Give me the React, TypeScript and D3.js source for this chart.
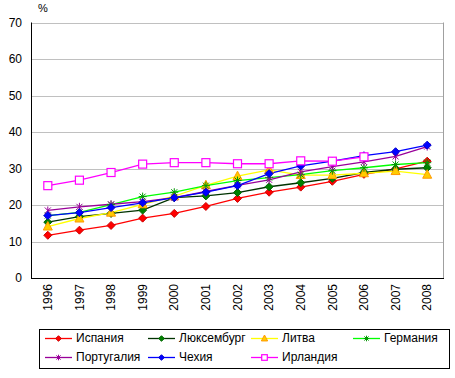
import React from "react";
import * as d3 from "d3";

const years = ["1996","1997","1998","1999","2000","2001","2002","2003","2004","2005","2006","2007","2008"];
const yTicks = [0, 10, 20, 30, 40, 50, 60, 70];

const spain = [11.7, 13.1, 14.4, 16.4, 17.7, 19.6, 21.8, 23.5, 24.9, 26.5, 28.4, 29.9, 32.0];
const luxembourg = [15.3, 16.8, 17.7, 18.6, 22.0, 22.5, 23.4, 25.0, 26.1, 27.3, 28.9, 29.8, 30.2];
const lithuania = [14.1, 16.3, 17.9, 20.2, 22.4, 25.4, 27.9, 29.6, 28.2, 28.2, 28.7, 29.3, 28.3];
const germany = [17.1, 18.0, 20.1, 22.3, 23.5, 25.3, 26.7, 27.5, 28.3, 29.4, 30.2, 31.1, 31.6];
const portugal = [18.5, 19.5, 20.2, 20.9, 22.0, 23.7, 25.4, 26.9, 29.1, 30.5, 31.8, 33.3, 36.0];
const czech = [17.1, 17.9, 19.3, 20.6, 22.0, 23.5, 25.3, 28.6, 30.7, 32.0, 33.5, 34.6, 36.4];
const ireland = [25.3, 26.8, 28.9, 31.2, 31.6, 31.6, 31.3, 31.3, 32.1, 32.0, 33.2, null, null];

type Series = { name: string; values: (number | null)[]; line: string; fill: string; stroke: string; marker: string };

const series: Series[] = [
  { name: "Испания", values: spain, line: "#FF0000", fill: "#FF0000", stroke: "#CC0000", marker: "diamond" },
  { name: "Люксембург", values: luxembourg, line: "#003300", fill: "#008000", stroke: "#006600", marker: "diamond" },
  { name: "Литва", values: lithuania, line: "#FFFF00", fill: "#FFCC00", stroke: "#FF9900", marker: "triangle" },
  { name: "Германия", values: germany, line: "#00FF00", fill: "#00CC00", stroke: "#009900", marker: "asterisk" },
  { name: "Португалия", values: portugal, line: "#990099", fill: "#990099", stroke: "#990099", marker: "star" },
  { name: "Чехия", values: czech, line: "#0000FF", fill: "#0000FF", stroke: "#0000CC", marker: "diamond" },
  { name: "Ирландия", values: ireland, line: "#FF00FF", fill: "#FFFFFF", stroke: "#FF00FF", marker: "square" },
];

function Marker({ x, y, s, k = 1 }: { x: number; y: number; s: Series; k?: number }) {
  const r = 4 * k;
  switch (s.marker) {
    case "diamond":
      return <path d={`M${x},${y - r}L${x + r},${y}L${x},${y + r}L${x - r},${y}Z`} fill={s.fill} stroke={s.stroke} strokeWidth={1} />;
    case "triangle":
      return <path d={`M${x},${y - 5 * k}L${x + 4.5 * k},${y + 3.5 * k}L${x - 4.5 * k},${y + 3.5 * k}Z`} fill={s.fill} stroke={s.stroke} strokeWidth={1} />;
    case "square":
      return <rect x={x - r} y={y - r} width={2 * r} height={2 * r} fill={s.fill} stroke={s.stroke} strokeWidth={1.2} />;
    case "asterisk":
      return (
        <g stroke={s.stroke} strokeWidth={1}>
          <line x1={x - r} y1={y} x2={x + r} y2={y} />
          <line x1={x} y1={y - r} x2={x} y2={y + r} />
          <line x1={x - 3 * k} y1={y - 3 * k} x2={x + 3 * k} y2={y + 3 * k} />
          <line x1={x - 3 * k} y1={y + 3 * k} x2={x + 3 * k} y2={y - 3 * k} />
        </g>
      );
    case "star":
    default:
      return (
        <g stroke={s.stroke} strokeWidth={1}>
          <line x1={x - 3 * k} y1={y - 3 * k} x2={x + 3 * k} y2={y + 3 * k} />
          <line x1={x - 3 * k} y1={y + 3 * k} x2={x + 3 * k} y2={y - 3 * k} />
          <line x1={x} y1={y - r} x2={x} y2={y + r} />
        </g>
      );
  }
}

export default function App() {
  const W = 455, H = 378;
  const left = 32, right = 443, top = 22.5, bottom = 278;
  const x = d3.scaleBand<string>().domain(years).range([left, right]);
  const y = d3.scaleLinear().domain([0, 70]).range([bottom, top]);
  const cx = (yr: string) => (x(yr) as number) + x.bandwidth() / 2;
  const font = "Arial, 'Liberation Sans', sans-serif";

  const lineGen = d3
    .line<number | null>()
    .defined((d) => d !== null)
    .x((_, i) => cx(years[i]))
    .y((d) => y(d as number));

  const legendCols = [45, 148, 251, 353];
  const legendRows = [338, 357];

  return (
    <svg width={W} height={H} style={{ position: "absolute", left: 0, top: 0, background: "#fff" }} fontFamily={font}>
      <rect x={0} y={0} width={W} height={H} fill="#fff" />
      {yTicks.map((t) => (
        <line key={t} x1={left} x2={right} y1={Math.round(y(t)) + 0.5} y2={Math.round(y(t)) + 0.5} stroke="#C0C0C0" />
      ))}
      <line x1={right + 0.5} x2={right + 0.5} y1={top} y2={bottom} stroke="#A0A0A0" />
      <line x1={left - 0.5} x2={left - 0.5} y1={top} y2={bottom + 1} stroke="#000" />
      <line x1={left - 1} x2={right + 1} y1={bottom + 0.5} y2={bottom + 0.5} stroke="#000" />
      {yTicks.map((t) => (
        <text key={t} x={22} y={y(t)} dy="0.35em" textAnchor="end" fontSize={12} fill="#000">
          {t}
        </text>
      ))}
      <text x={38} y={12} fontSize={11} fill="#000">%</text>
      {years.map((yr) => (
        <text
          key={yr}
          transform={`translate(${cx(yr)},${284}) rotate(-90)`}
          dy="0.35em"
          textAnchor="end"
          fontSize={12}
          fill="#000"
        >
          {yr}
        </text>
      ))}
      {series.map((s) => (
        <path key={s.name} d={lineGen(s.values) || ""} fill="none" stroke={s.line} strokeWidth={1.3} />
      ))}
      {series.map((s) => (
        <g key={s.name + "m"}>
          {s.values.map((v, i) => (v === null ? null : <Marker key={i} x={cx(years[i])} y={y(v)} s={s} />))}
        </g>
      ))}
      <rect x={39.5} y={329.5} width={410} height={39} fill="#fff" stroke="#000" />
      {series.map((s, i) => {
        const lx = legendCols[i % 4];
        const ly = legendRows[Math.floor(i / 4)];
        return (
          <g key={s.name + "l"}>
            <line x1={lx} x2={lx + 27} y1={ly + 0.5} y2={ly + 0.5} stroke={s.line} strokeWidth={1.3} />
            <Marker x={lx + 13.5} y={ly + 0.5} s={s} k={0.7} />
            <text x={lx + 31} y={ly} dy="0.35em" fontSize={12} fill="#000">
              {s.name}
            </text>
          </g>
        );
      })}
    </svg>
  );
}
